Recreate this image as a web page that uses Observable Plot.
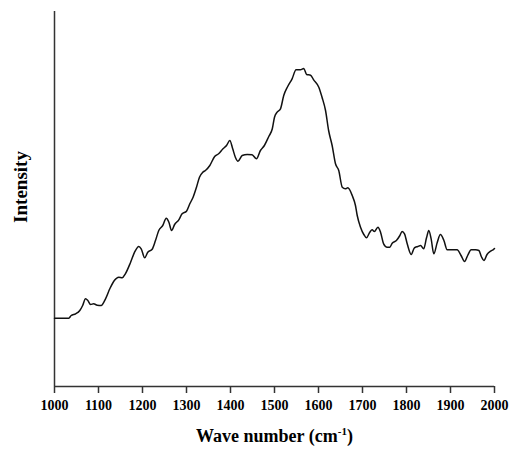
<!DOCTYPE html>
<html>
<head>
<meta charset="utf-8">
<script src="https://cdn.jsdelivr.net/npm/d3@7"></script>
<script src="https://cdn.jsdelivr.net/npm/@observablehq/plot@0.6"></script>
<style>
  html, body { margin: 0; padding: 0; background: #fff; }
</style>
</head>
<body>
<div id="chart"></div>
<script>
const wavenumber = [1000,1032.5,1038,1048,1057.5,1064,1070.5,1075.7,1082,1089,1097,1106,1116,1125.7,1136,1146,1154,1161,1173,1182,1191.6,1197,1205,1212,1222,1229.5,1237,1246,1254,1260,1266,1273,1282.5,1290,1300,1307.5,1315,1322.7,1329.5,1337,1343,1353,1364,1373,1383,1391,1398.5,1405,1411,1417,1426.6,1438,1449,1459,1468,1477,1487,1495,1500,1506,1513.6,1521,1530,1540,1549,1559,1566.6,1573,1582,1589,1600.7,1608,1616,1623,1631,1638.6,1646,1654,1661,1666.6,1676.6,1684,1688,1695.5,1703,1709,1716.6,1722,1727,1735,1741,1748,1756,1762,1767.5,1777,1785,1790,1795.5,1801.6,1810.7,1818,1825.7,1832,1839,1845.5,1850.7,1856,1862,1870,1877,1885,1892.5,1904,1915,1924,1932,1939,1947,1957,1964.5,1970,1976,1983,1991,1998.4,2000];
const intensity = [68.3,68.3,71,72.7,76,81,87.7,86,82,82.7,81.3,81,87.7,97.7,106,109.3,108.7,112.7,124.3,134.3,140,137.7,128.7,134.3,137.3,146,156,161,168.3,164.3,156,162,166.7,172.7,175.3,182.7,189.3,199.3,209.3,214.3,216,221,230,232.7,237.7,241,246,237.7,229.3,225.3,231,232,231.7,227.7,236,241,250,257.7,269.3,274.3,277.7,291,300,307.7,316.7,316.7,318,312,311.3,306.7,299.3,289.3,276,256,241,222.7,216,199.3,197.7,198.7,191,181,171,159.3,152,148.7,154.3,156.7,155,159.3,154.3,142.7,139.3,139.3,143.3,146,151,155,152.7,142.7,132,138.7,140,141,137.7,148.7,156,147.7,132.7,144.3,152,146,136.7,136.7,136.7,131,125,131,136.7,136.7,136,130,126,132,135.3,137.3,138];
const xTicks = [1000,1100,1200,1300,1400,1500,1600,1700,1800,1900,2000];
const xLabelMain = "Wave number (cm";
const xLabelSup = "-1";
const xLabelEnd = ")";
const yLabel = "Intensity";

const data = wavenumber.map((w, i) => ({w, v: intensity[i]}));
const font = "'Liberation Serif', 'Times New Roman', serif";
const xLabel = xLabelMain + xLabelSup + xLabelEnd;

const chart = Plot.plot({
  width: 512,
  height: 450,
  marginLeft: 54,
  marginRight: 18,
  marginTop: 11,
  marginBottom: 64,
  style: {fontFamily: font, fontSize: "14px", fontWeight: "bold", color: "#000", background: "#fff"},
  x: {domain: [1000, 2000]},
  y: {domain: [0, 375]},
  marks: [
    Plot.axisX(xTicks, {tickSize: 7, tickPadding: 7, tickFormat: d => String(d), label: null, stroke: "#333", strokeWidth: 1.5, fill: "#000", fontWeight: "bold"}),
    Plot.axisY({ticks: [], label: null}),
    Plot.ruleX([1000], {stroke: "#333", strokeWidth: 1.5}),
    Plot.ruleY([0], {stroke: "#333", strokeWidth: 1.5}),
    Plot.line(data, {x: "w", y: "v", stroke: "#111", strokeWidth: 1.5, curve: "monotone-x"}),
    Plot.text([xLabel], {frameAnchor: "bottom", dy: 50, fontSize: 18, fontWeight: "bold", fill: "#000", lineAnchor: "middle", textAnchor: "middle", className: "xtitle"}),
    Plot.text([yLabel], {frameAnchor: "left", dx: -34, dy: -12, rotate: -90, fontSize: 19, fontWeight: "bold", fill: "#000", lineAnchor: "middle", textAnchor: "middle"})
  ]
});
document.getElementById("chart").appendChild(chart);

// render the "-1" as a superscript
const t = Array.from(chart.querySelectorAll("text")).find(n => n.textContent === xLabel);
if (t) {
  t.textContent = "";
  const ns = "http://www.w3.org/2000/svg";
  const a = document.createElementNS(ns, "tspan"); a.textContent = xLabelMain;
  const b = document.createElementNS(ns, "tspan"); b.textContent = xLabelSup;
  b.setAttribute("font-size", "11"); b.setAttribute("dy", "-7");
  const c = document.createElementNS(ns, "tspan"); c.textContent = xLabelEnd;
  c.setAttribute("dy", "7");
  t.append(a, b, c);
}
</script>
</body>
</html>
